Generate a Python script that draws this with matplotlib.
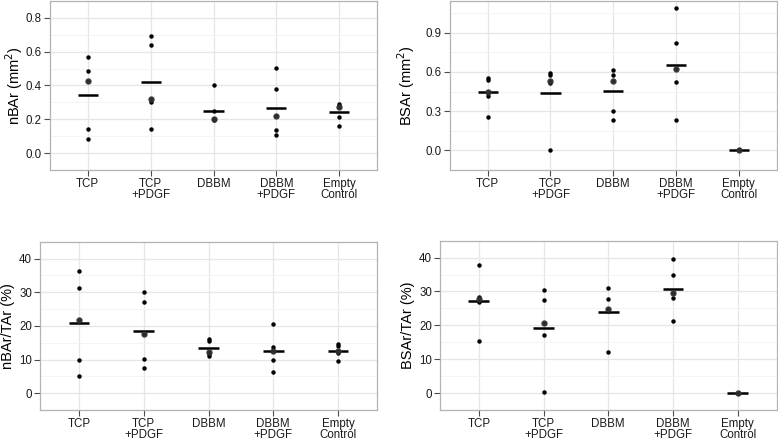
import numpy as np
import matplotlib
matplotlib.use("Agg")
import matplotlib.pyplot as plt

plt.rcParams['font.family'] = ['Liberation Sans', 'DejaVu Sans']

categories = ["TCP", "TCP\n+PDGF", "DBBM", "DBBM\n+PDGF", "Empty\nControl"]

# nBAr (mm^2)
nbar = [
    [0.567, 0.484, 0.428, 0.143, 0.083],
    [0.691, 0.641, 0.322, 0.304, 0.145],
    [0.400, 0.252, 0.204, 0.200, 0.195],
    [0.501, 0.382, 0.221, 0.135, 0.106],
    [0.292, 0.281, 0.271, 0.216, 0.158],
]
# BSAr (mm^2)
bsar = [
    [0.555, 0.540, 0.447, 0.419, 0.254],
    [0.590, 0.576, 0.531, 0.512, 0.003],
    [0.618, 0.574, 0.529, 0.301, 0.230],
    [1.088, 0.818, 0.625, 0.521, 0.230],
    [0.0, 0.0, 0.0, 0.0, 0.0],
]
# nBAr/TAr (%)
nbar_tar = [
    [36.4, 31.1, 21.8, 9.9, 5.1],
    [30.0, 27.0, 17.6, 10.1, 7.5],
    [16.0, 15.6, 12.3, 11.7, 10.9],
    [20.5, 13.7, 12.4, 9.9, 6.2],
    [14.6, 13.9, 12.4, 12.0, 9.5],
]
# BSAr/TAr (%)
bsar_tar = [
    [37.9, 28.4, 27.9, 26.9, 15.4],
    [30.4, 27.5, 20.6, 17.2, 0.2],
    [30.9, 27.7, 24.9, 24.2, 12.1],
    [39.5, 34.8, 29.7, 28.0, 21.4],
    [0.0, 0.0, 0.0, 0.0, 0.0],
]

W, H = 778, 440
fig = plt.figure(figsize=(W / 100, H / 100), dpi=100)

def frac(l, t, r, b):
    return [l / W, 1 - b / H, (r - l) / W, (b - t) / H]

panels = [
    (frac(50, 1, 377, 170), nbar, "nBAr (mm$^2$)", (-0.04, 0.84), 0.2, [0, 0.2, 0.4, 0.6, 0.8], "{:.1f}", 25),
    (frac(450, 1, 776.5, 170), bsar, "BSAr (mm$^2$)", (-0.0544, 1.1424), 0.3, [0, 0.3, 0.6, 0.9], "{:.1f}", 417),
    (frac(40, 241.7, 377, 410), nbar_tar, "nBAr/TAr (%)", (-2, 42), 10, [0, 10, 20, 30, 40], "{:.0f}", 15),
    (frac(440, 240.7, 776.5, 410), bsar_tar, "BSAr/TAr (%)", (-1.975, 41.475), 10, [0, 10, 20, 30, 40], "{:.0f}", 415),
]

for rect, data, ylabel, ylim, step, ticks, fmt, lab_x in panels:
    ax = fig.add_axes(rect)
    ax.set_xlim(-0.6, len(categories) - 0.4)
    ax.set_ylim(*ylim)
    ax.set_facecolor("white")
    for s in ax.spines.values():
        s.set_color("#b3b3b3")
        s.set_linewidth(0.9)
    ax.set_yticks(ticks)
    ax.set_yticklabels([fmt.format(t) for t in ticks])
    ax.set_xticks(range(len(categories)))
    ax.set_xticklabels(categories, linespacing=0.92)
    minors = [t + step / 2 for t in ticks] + [ticks[0] - step / 2]
    ax.set_yticks(minors, minor=True)
    ax.grid(True, which="major", color="#e6e6e6", linewidth=0.9)
    ax.grid(True, which="minor", axis="y", color="#f3f3f3", linewidth=0.6)
    ax.set_axisbelow(True)
    ax.tick_params(axis="both", which="major", length=4, width=0.8, color="#4d4d4d",
                   labelsize=8.3, labelcolor="#1a1a1a", pad=1.8)
    ax.tick_params(axis="y", which="minor", length=0)
    for i, vals in enumerate(data):
        vals = np.asarray(vals)
        ax.scatter(np.full(len(vals), i), vals, s=3.2 ** 2, color="black", zorder=3, linewidths=0)
        m = vals.mean()
        ax.plot([i - 0.16, i + 0.16], [m, m], color="black", linewidth=1.8, solid_capstyle="butt", zorder=4)
        med = np.median(vals)
        ax.scatter([i], [med], s=4.6 ** 2, color="#333333", alpha=0.9, zorder=5, linewidths=0)
    ax.set_ylabel(ylabel, fontsize=10.5, color="black")
    ax.yaxis.set_label_coords((lab_x - rect[0] * W) / (rect[2] * W), 0.5)

fig.savefig("out.png", dpi=100)
